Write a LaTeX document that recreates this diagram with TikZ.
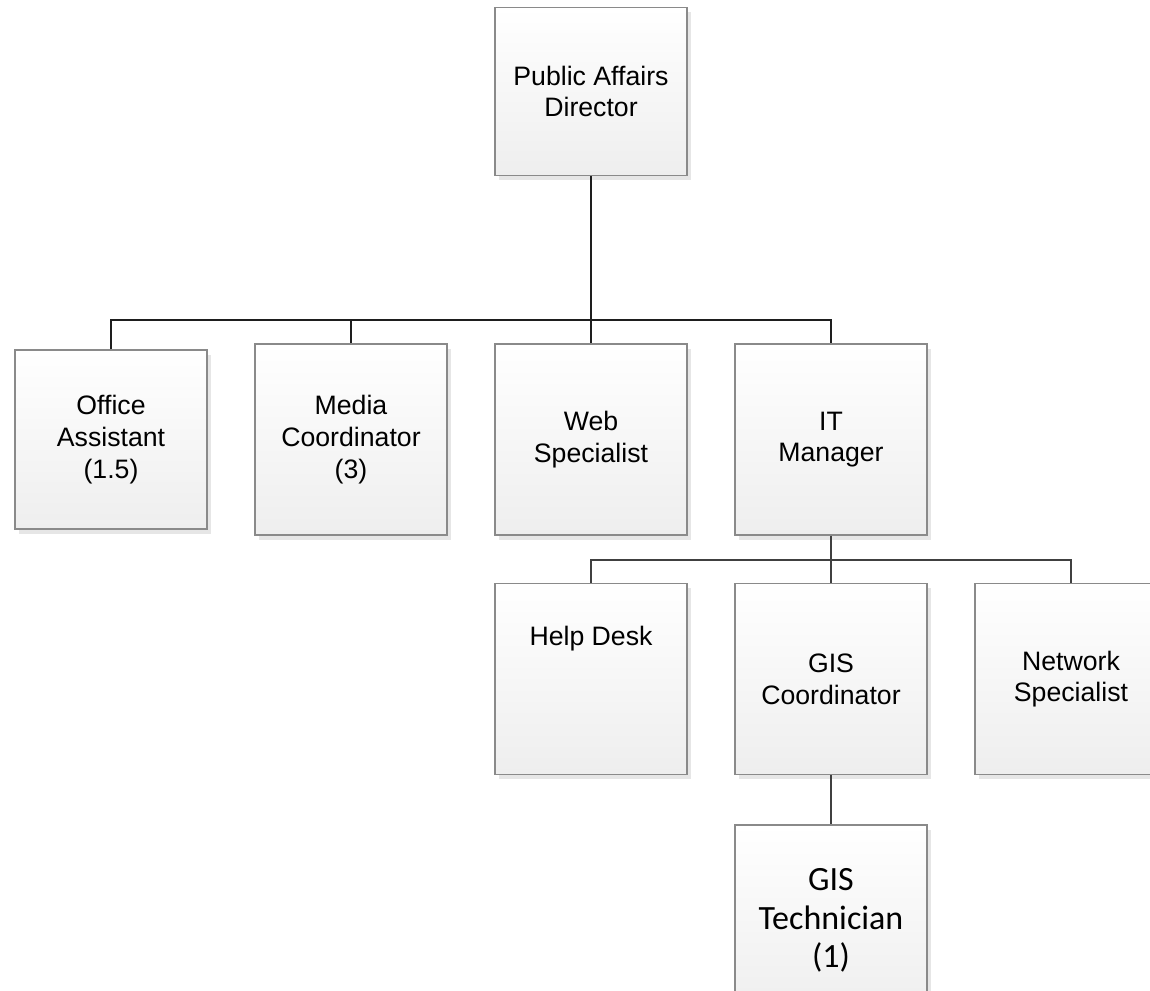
\documentclass[tikz,border=0pt]{standalone}
\usepackage{fontspec}
\setmainfont{Liberation Sans}
\newfontfamily\calibrifont{Carlito}
\usetikzlibrary{shadows}
\definecolor{boxborder}{HTML}{8A8A8A}
\definecolor{boxbottom}{HTML}{EEEEEE}
\definecolor{shadowgray}{HTML}{E6E6E6}
\definecolor{connA}{HTML}{1E1E1E}
\definecolor{connB}{HTML}{404040}
\tikzset{
  orgbox/.style={rectangle, draw=boxborder, line width=1.1pt,
    top color=white, bottom color=boxbottom,
    minimum width=144pt, minimum height=143.25pt, inner sep=0pt,
    align=center, font=\fontsize{20}{23.8}\selectfont,
    drop shadow={shadow xshift=3pt, shadow yshift=-3.5pt, fill=shadowgray, opacity=1}},
  connA/.style={draw=connA, line width=1.3pt},
  connB/.style={draw=connB, line width=1.3pt}
}
\begin{document}
\begin{tikzpicture}[x=0.75pt, y=-0.75pt]
\useasboundingbox (0,0) rectangle (1150,991);
\node[orgbox, minimum height=126pt] (pad) at (591,91.5) {Public Affairs\\Director};
\node[orgbox, minimum height=134.25pt] (oa) at (111,439.5) {Office\\Assistant\\(1.5)};
\node[orgbox] (mc) at (351,439.5) {Media\\Coordinator\\(3)};
\node[orgbox] (ws) at (591,439.5) {Web\\Specialist};
\node[orgbox] (it) at (831,439.5) {IT\\Manager};
\node[orgbox] (hd) at (591,679) {Help Desk\\[41pt]};
\node[orgbox] (gc) at (831,679) {GIS\\Coordinator};
\node[orgbox] (ns) at (1071,679) {Network\\Specialist};
\node[orgbox, font=\calibrifont\fontsize{25.5}{28.7}\selectfont] (gt) at (831,920.5) {GIS\\Technician\\(1)};
\coordinate (b1) at (591,320);
\coordinate (b2) at (831,560);
\draw[connA] (pad.south) -- (b1);
\draw[connA] (oa.north) |- (b1) -| (it.north);
\draw[connA] (mc.north) -- (mc.north |- b1);
\draw[connA] (ws.north) -- (b1);
\draw[connB] (it.south) -- (b2);
\draw[connB] (hd.north) |- (b2) -| (ns.north);
\draw[connB] (b2) -- (gc.north);
\draw[connB] (gc.south) -- (gt.north);
\end{tikzpicture}
\end{document}
